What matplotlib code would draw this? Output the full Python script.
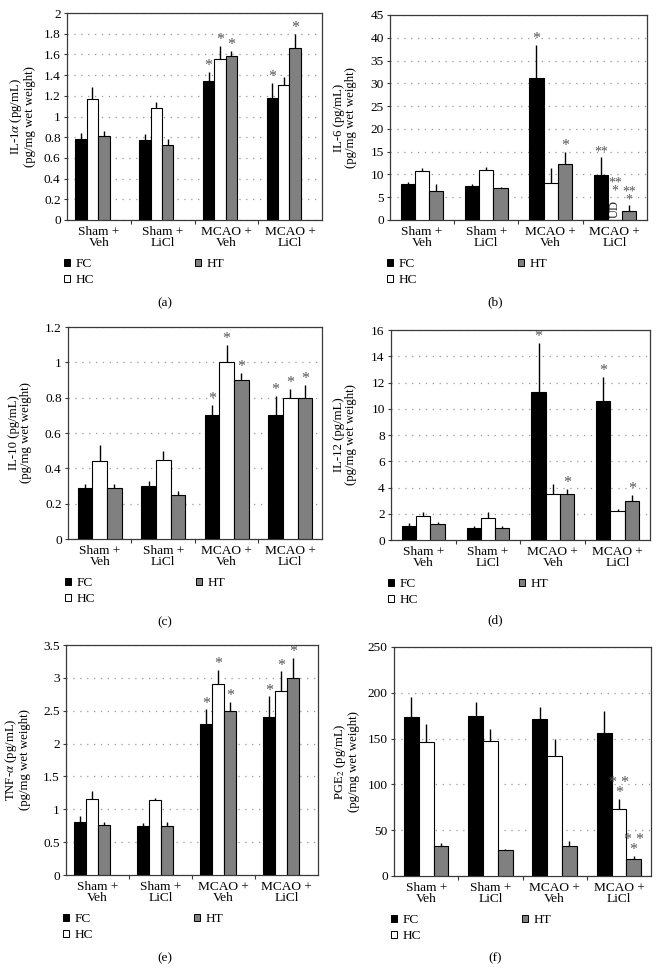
import matplotlib
matplotlib.use('Agg')
import matplotlib.pyplot as plt
import numpy as np
from matplotlib.patches import Patch

plt.rcParams['font.family'] = ['Liberation Serif', 'DejaVu Serif']
plt.rcParams['mathtext.fontset'] = 'stix'

categories = ['Sham +\nVeh', 'Sham +\nLiCl', 'MCAO +\nVeh', 'MCAO +\nLiCl']
series = ['FC', 'HC', 'HT']
colors = ['#000000', '#ffffff', '#808080']

# ---- (a) IL-1alpha ----
il1a_fc = [0.78, 0.77, 1.345, 1.18]
il1a_hc = [1.17, 1.08, 1.555, 1.30]
il1a_ht = [0.81, 0.72, 1.585, 1.66]
il1a_fc_err = [0.06, 0.06, 0.085, 0.14]
il1a_hc_err = [0.12, 0.06, 0.125, 0.08]
il1a_ht_err = [0.05, 0.06, 0.05, 0.14]
il1a_stars = [['', '', '*', '*'], ['', '', '*', ''], ['', '', '*', '*']]

# ---- (b) IL-6 ----
il6_fc = [7.85, 7.5, 31.2, 9.9]
il6_hc = [10.7, 11.05, 8.1, 0.0]
il6_ht = [6.45, 6.95, 12.3, 2.05]
il6_fc_err = [0.45, 0.35, 7.3, 4.0]
il6_hc_err = [0.8, 0.55, 3.3, 0.0]
il6_ht_err = [1.4, 0.35, 2.6, 1.35]
il6_stars = [['', '', '*', '**'], ['', '', '', ''], ['', '', '*', '**\n*']]

# ---- (c) IL-10 ----
il10_fc = [0.29, 0.30, 0.70, 0.70]
il10_hc = [0.44, 0.45, 1.00, 0.80]
il10_ht = [0.29, 0.25, 0.90, 0.80]
il10_fc_err = [0.02, 0.03, 0.06, 0.11]
il10_hc_err = [0.09, 0.05, 0.10, 0.05]
il10_ht_err = [0.02, 0.02, 0.04, 0.07]
il10_stars = [['', '', '*', '*'], ['', '', '*', '*'], ['', '', '*', '*']]

# ---- (d) IL-12 ----
il12_fc = [1.1, 0.9, 11.3, 10.6]
il12_hc = [1.8, 1.7, 3.5, 2.2]
il12_ht = [1.25, 0.95, 3.5, 3.0]
il12_fc_err = [0.2, 0.15, 3.7, 1.8]
il12_hc_err = [0.3, 0.4, 0.8, 0.2]
il12_ht_err = [0.15, 0.1, 0.4, 0.4]
il12_stars = [['', '', '*', '*'], ['', '', '', ''], ['', '', '*', '*']]

# ---- (e) TNF-alpha ----
tnf_fc = [0.81, 0.75, 2.30, 2.40]
tnf_hc = [1.15, 1.14, 2.90, 2.80]
tnf_ht = [0.76, 0.75, 2.50, 3.00]
tnf_fc_err = [0.09, 0.04, 0.22, 0.32]
tnf_hc_err = [0.13, 0.03, 0.22, 0.30]
tnf_ht_err = [0.05, 0.06, 0.13, 0.30]
tnf_stars = [['', '', '*', '*'], ['', '', '*', '*'], ['', '', '*', '*']]

# ---- (f) PGE2 ----
pge_fc = [174, 175, 171, 156]
pge_hc = [146, 147, 131, 73]
pge_ht = [33, 28, 33, 19]
pge_fc_err = [21, 15, 13, 24]
pge_hc_err = [20, 13, 18, 11]
pge_ht_err = [3, 1.5, 5, 3]
pge_stars = [['', '', '', ''], ['', '', '', '* *\n*'], ['', '', '', '* *\n*']]

panels = [
    dict(vals=[il1a_fc, il1a_hc, il1a_ht], errs=[il1a_fc_err, il1a_hc_err, il1a_ht_err],
         stars=il1a_stars, ylim=2.0,
         yticks=[0, 0.2, 0.4, 0.6, 0.8, 1.0, 1.2, 1.4, 1.6, 1.8, 2.0],
         yticklabels=['0', '0.2', '0.4', '0.6', '0.8', '1', '1.2', '1.4', '1.6', '1.8', '2'],
         ylabel='IL-1$\\alpha$ (pg/mL)\n(pg/mg wet weight)',
         pos=[0.1015, 0.7739, 0.3864, 0.2127], w=0.18, shift=0.10, ylx=-45, letter='(a)',
         lpos=(165, 303)),
    dict(vals=[il6_fc, il6_hc, il6_ht], errs=[il6_fc_err, il6_hc_err, il6_ht_err],
         stars=il6_stars, ylim=45,
         yticks=[0, 5, 10, 15, 20, 25, 30, 35, 40, 45],
         yticklabels=['0', '5', '10', '15', '20', '25', '30', '35', '40', '45'],
         ylabel='IL-6 (pg/mL)\n(pg/mg wet weight)',
         pos=[0.5909, 0.7739, 0.3894, 0.2107], w=0.22, shift=0.0, ylx=-45, letter='(b)',
         lpos=(495, 302), ud=True),
    dict(vals=[il10_fc, il10_hc, il10_ht], errs=[il10_fc_err, il10_hc_err, il10_ht_err],
         stars=il10_stars, ylim=1.2,
         yticks=[0, 0.2, 0.4, 0.6, 0.8, 1.0, 1.2],
         yticklabels=['0', '0.2', '0.4', '0.6', '0.8', '1', '1.2'],
         ylabel='IL-10 (pg/mL)\n(pg/mg wet weight)',
         pos=[0.1030, 0.4460, 0.3848, 0.2179], w=0.23, shift=0.0, ylx=-48, letter='(c)',
         lpos=(165, 622)),
    dict(vals=[il12_fc, il12_hc, il12_ht], errs=[il12_fc_err, il12_hc_err, il12_ht_err],
         stars=il12_stars, ylim=16,
         yticks=[0, 2, 4, 6, 8, 10, 12, 14, 16],
         yticklabels=['0', '2', '4', '6', '8', '10', '12', '14', '16'],
         ylabel='IL-12 (pg/mL)\n(pg/mg wet weight)',
         pos=[0.5924, 0.4450, 0.3924, 0.2158], w=0.22, shift=0.0, ylx=-46, letter='(d)',
         lpos=(495, 620)),
    dict(vals=[tnf_fc, tnf_hc, tnf_ht], errs=[tnf_fc_err, tnf_hc_err, tnf_ht_err],
         stars=tnf_stars, ylim=3.5,
         yticks=[0, 0.5, 1.0, 1.5, 2.0, 2.5, 3.0, 3.5],
         yticklabels=['0', '0.5', '1', '1.5', '2', '2.5', '3', '3.5'],
         ylabel='TNF-$\\alpha$ (pg/mL)\n(pg/mg wet weight)',
         pos=[0.1000, 0.1007, 0.3818, 0.2364], w=0.19, shift=0.09, ylx=-49, letter='(e)',
         lpos=(165, 958)),
    dict(vals=[pge_fc, pge_hc, pge_ht], errs=[pge_fc_err, pge_hc_err, pge_ht_err],
         stars=pge_stars, ylim=250,
         yticks=[0, 50, 100, 150, 200, 250],
         yticklabels=['0', '50', '100', '150', '200', '250'],
         ylabel='PGE$_2$ (pg/mL)\n(pg/mg wet weight)',
         pos=[0.5970, 0.0997, 0.3894, 0.2354], w=0.23, shift=0.0, ylx=-48, letter='(f)',
         lpos=(495, 958)),
]

W, H = 660, 973
fig = plt.figure(figsize=(W / 100, H / 100), dpi=100)
FS = 9.6
SFS = 11.5
spine_c = '#3a3a3a'
star_c = '#555555'

for p in panels:
    ax = fig.add_axes(p['pos'])
    axw = p['pos'][2] * W
    axh = p['pos'][3] * H
    x = np.arange(len(categories))
    ymax = p['ylim']
    for j, s in enumerate(series):
        xs = x + (j - 1) * p['w'] - p['shift']
        v = np.array(p['vals'][j], dtype=float)
        e = np.array(p['errs'][j], dtype=float)
        ax.bar(xs, v, width=p['w'], color=colors[j], edgecolor='black',
               linewidth=0.8, zorder=3)
        for i in range(len(x)):
            if e[i] > 0:
                ax.plot([xs[i], xs[i]], [v[i], v[i] + e[i]], color='black',
                        lw=1.0, zorder=4, solid_capstyle='butt')
            st = p['stars'][j][i]
            if st:
                fs = SFS if st == '*' or ' ' in st else 9.8
                ax.text(xs[i], v[i] + e[i] - ymax * 0.01, st, ha='center',
                        va='bottom', color=star_c, fontsize=fs,
                        linespacing=0.5, zorder=5)
        if p.get('ud') and j == 1:
            i = 3
            ax.text(xs[i], ymax * 0.008, 'UD', rotation=90, ha='center',
                    va='bottom', fontsize=9, color='#222222', zorder=5)
            ax.text(xs[i], ymax * 0.108, '**\n*', ha='center', va='bottom',
                    color=star_c, fontsize=9.8, linespacing=0.5, zorder=5)

    ax.set_xlim(-0.5, len(categories) - 0.5)
    ax.set_ylim(0, ymax)
    ax.set_yticks(p['yticks'])
    ax.set_yticklabels(p['yticklabels'], fontsize=FS)
    ax.set_xticks(x)
    ax.set_xticklabels(categories, fontsize=FS, linespacing=0.95)
    ax.set_xticks(x[:-1] + 0.5, minor=True)
    ax.tick_params(axis='x', which='major', length=0, pad=4)
    ax.tick_params(axis='x', which='minor', length=3, width=0.8, color=spine_c, direction='out')
    ax.tick_params(axis='y', length=2.5, width=0.8, color=spine_c, pad=2)
    ax.grid(axis='y', color='#999999', linestyle=(0, (1, 4.5)), linewidth=0.9)
    ax.set_axisbelow(True)
    for sp in ax.spines.values():
        sp.set_color(spine_c)
        sp.set_linewidth(0.9)
    ax.set_ylabel(p['ylabel'], fontsize=9.2, va='center', linespacing=1.0)
    ax.yaxis.set_label_coords(p['ylx'] / axw, 0.5)

    handles = [Patch(facecolor=colors[k], edgecolor='black', linewidth=0.7) for k in range(3)]
    ax.legend(handles, series, ncol=2, loc='upper left',
              bbox_to_anchor=(-3 / axw, -38 / axh), frameon=False, fontsize=FS,
              handlelength=0.45, handleheight=0.45, handletextpad=0.4,
              columnspacing=7.6, borderpad=0, borderaxespad=0, labelspacing=0.3)

    fig.text(p['lpos'][0] / W, 1 - p['lpos'][1] / H, p['letter'], ha='center',
             va='center', fontsize=FS)

fig.savefig('out.png', dpi=100)
